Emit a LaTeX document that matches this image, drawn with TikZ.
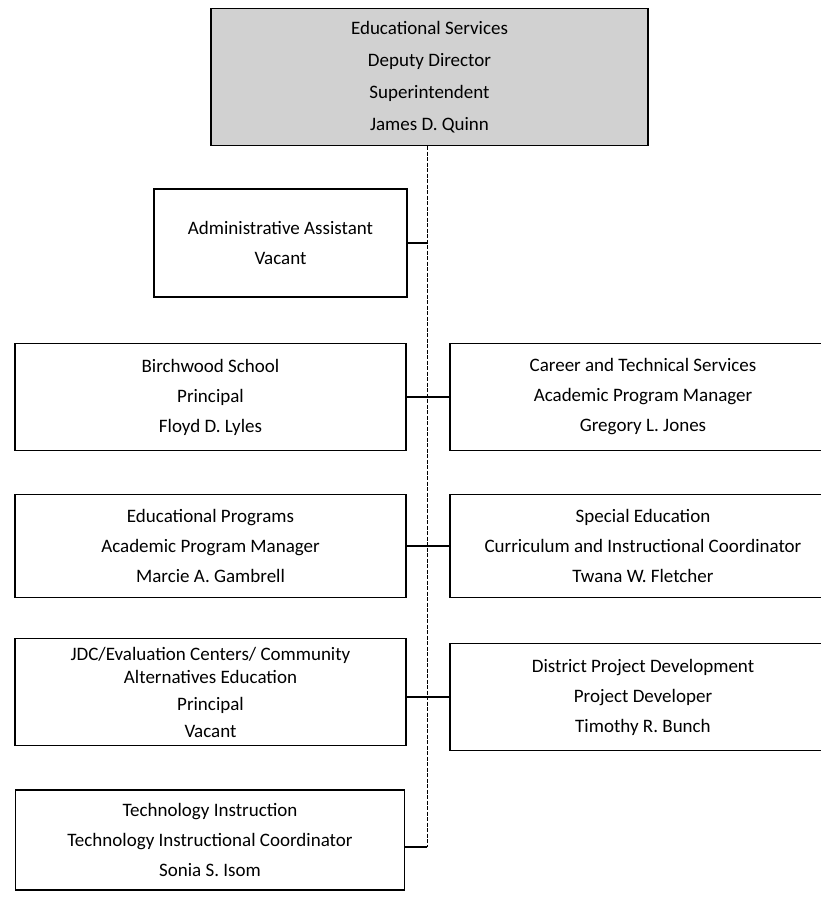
\documentclass[tikz,border=0pt]{standalone}
\usepackage{fontspec}
\setmainfont{Carlito}

\begin{document}
\begin{tikzpicture}[x=1pt, y=-1pt,
  post/.style={draw, line width=1.2pt, align=center, inner sep=0pt,
    font=\fontsize{19}{30}\selectfont},
  spine/.style={line width=0.8pt, dash pattern=on 4pt off 1.5pt},
  link/.style={line width=1.2pt}]
  \clip (0,0) rectangle (821,897);

  % Draw boxes
  \node[post, fill=black!18, minimum width=437pt, minimum height=137pt,
    font=\fontsize{19}{32}\selectfont] (dir) at (429.5,77)
    {Educational Services\\Deputy Director\\Superintendent\\James D. Quinn};
  \node[post, minimum width=253pt, minimum height=108pt] (admin) at (280.5,243)
    {Administrative Assistant\\Vacant};
  \node[post, minimum width=391pt, minimum height=107pt] (birch) at (210.5,397)
    {Birchwood School\\Principal\\Floyd D. Lyles};
  \node[post, minimum width=386pt, minimum height=107pt] (career) at (643,397)
    {Career and Technical Services\\Academic Program Manager\\Gregory L. Jones};
  \node[post, minimum width=391pt, minimum height=103pt] (edprog) at (210.5,546)
    {Educational Programs\\Academic Program Manager\\Marcie A. Gambrell};
  \node[post, minimum width=386pt, minimum height=103pt] (sped) at (643,546)
    {Special Education\\Curriculum and Instructional Coordinator\\Twana W. Fletcher};
  \node[post, minimum width=391pt, minimum height=107pt,
    font=\fontsize{19}{27}\selectfont] (jdc) at (210.5,692)
    {JDC/Evaluation Centers/ Community\\[-4pt]Alternatives Education\\Principal\\Vacant};
  \node[post, minimum width=386pt, minimum height=107pt] (district) at (643,697)
    {District Project Development\\Project Developer\\Timothy R. Bunch};
  \node[post, minimum width=389pt, minimum height=100pt] (tech) at (210,840)
    {Technology Instruction\\Technology Instructional Coordinator\\Sonia S. Isom};

  % Draw connectors
  \coordinate (foot) at (427,847);
  \draw[spine] (dir.south -| foot) -- (foot);
  \draw[link] (admin.east) -- (admin.east -| foot);
  \draw[link] (birch.east) -- (career.west);
  \draw[link] (edprog.east) -- (sped.west);
  \draw[link] (jdc.east |- district.west) -- (district.west);
  \draw[link] (foot) -- (tech.east |- foot);

\end{tikzpicture}
\end{document}
